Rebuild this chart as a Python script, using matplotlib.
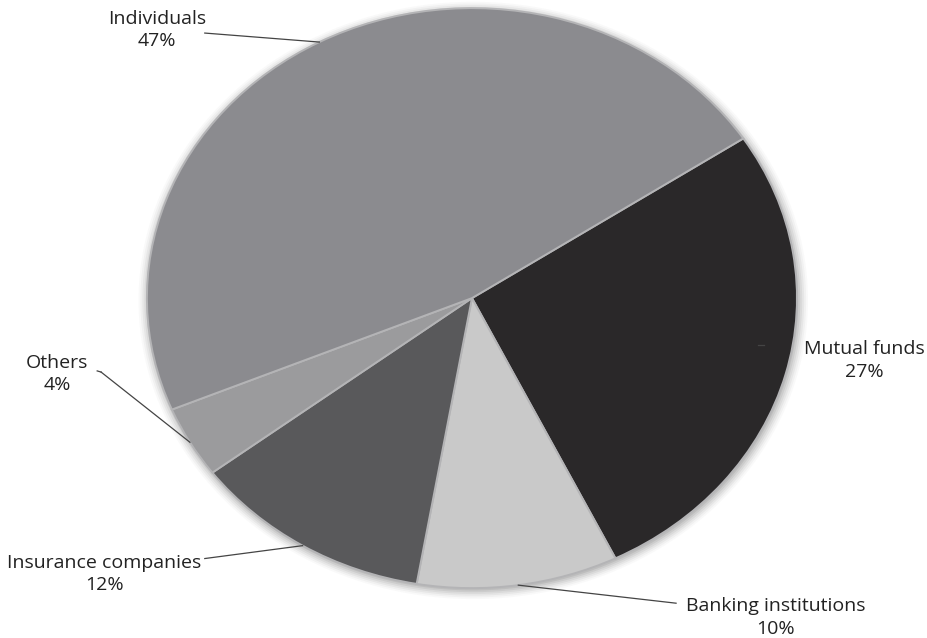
import matplotlib.pyplot as plt
import numpy as np

# ownership shares, drawn clockwise starting at the Mutual funds slice
labels = ["Mutual funds", "Banking institutions", "Insurance companies", "Others", "Individuals"]
shares = [27, 10, 12, 4, 47]
colors = ["#2a2829", "#c9c9c9", "#59595b", "#9b9b9d", "#8b8b8f"]

# text block centres and leader-line elbows, in axes data units
label_pos = {
    "Individuals": (-0.968, 0.925),
    "Mutual funds": (1.207, -0.215),
    "Others": (-1.277, -0.263),
    "Insurance companies": (-1.132, -0.951),
    "Banking institutions": (0.935, -1.101),
}
elbow = {
    "Individuals": (-0.822, 0.914),
    "Mutual funds": (0.89, -0.162),
    "Others": (-1.141, -0.255),
    "Insurance companies": (-0.822, -0.898),
    "Banking institutions": (0.628, -1.052),
}

fig = plt.figure(figsize=(9.27, 6.38), dpi=100)
ax = fig.add_axes([0, 0, 1, 1])

# soft drop shadow under the pie
t = np.linspace(0, 2 * np.pi, 400)
for k, a in zip(np.linspace(1.03, 1.0, 6), np.linspace(0.03, 0.12, 6)):
    ax.fill(k * np.cos(t) + 0.004, k * np.sin(t) - 0.008, color="#555555", alpha=a, lw=0)

wedges, _ = ax.pie(shares, colors=colors, startangle=33.4, counterclock=False,
                   radius=1.0,
                   wedgeprops=dict(edgecolor="#b4b4b6", linewidth=1.4))
ax.set_aspect("auto")
ax.set_xlim(-1.452, 1.4)
ax.set_ylim(-1.172, 1.028)
ax.axis("off")

for w, name, v in zip(wedges, labels, shares):
    mid = np.deg2rad((w.theta1 + w.theta2) / 2)
    tx, ty = label_pos[name]
    ex, ey = elbow[name]
    if name == "Mutual funds":
        # only a stub of the leader shows on the dark slice
        ax.plot([0.88, 0.9], [-0.162, -0.162], color="#444444", lw=0.9)
    else:
        px, py = np.cos(mid), np.sin(mid)
        if name == "Others":
            ax.plot([ex - 0.012, ex], [ey + 0.004, ey], color="#444444", lw=0.9)
        ax.plot([ex, px], [ey, py], color="#444444", lw=0.9)
    ax.text(tx, ty, "%s\n%d%%" % (name, v), ha="center", va="center",
            fontsize=14, family="Open Sans", color="#222222", linespacing=1.3)

fig.savefig("out.png", dpi=100)
